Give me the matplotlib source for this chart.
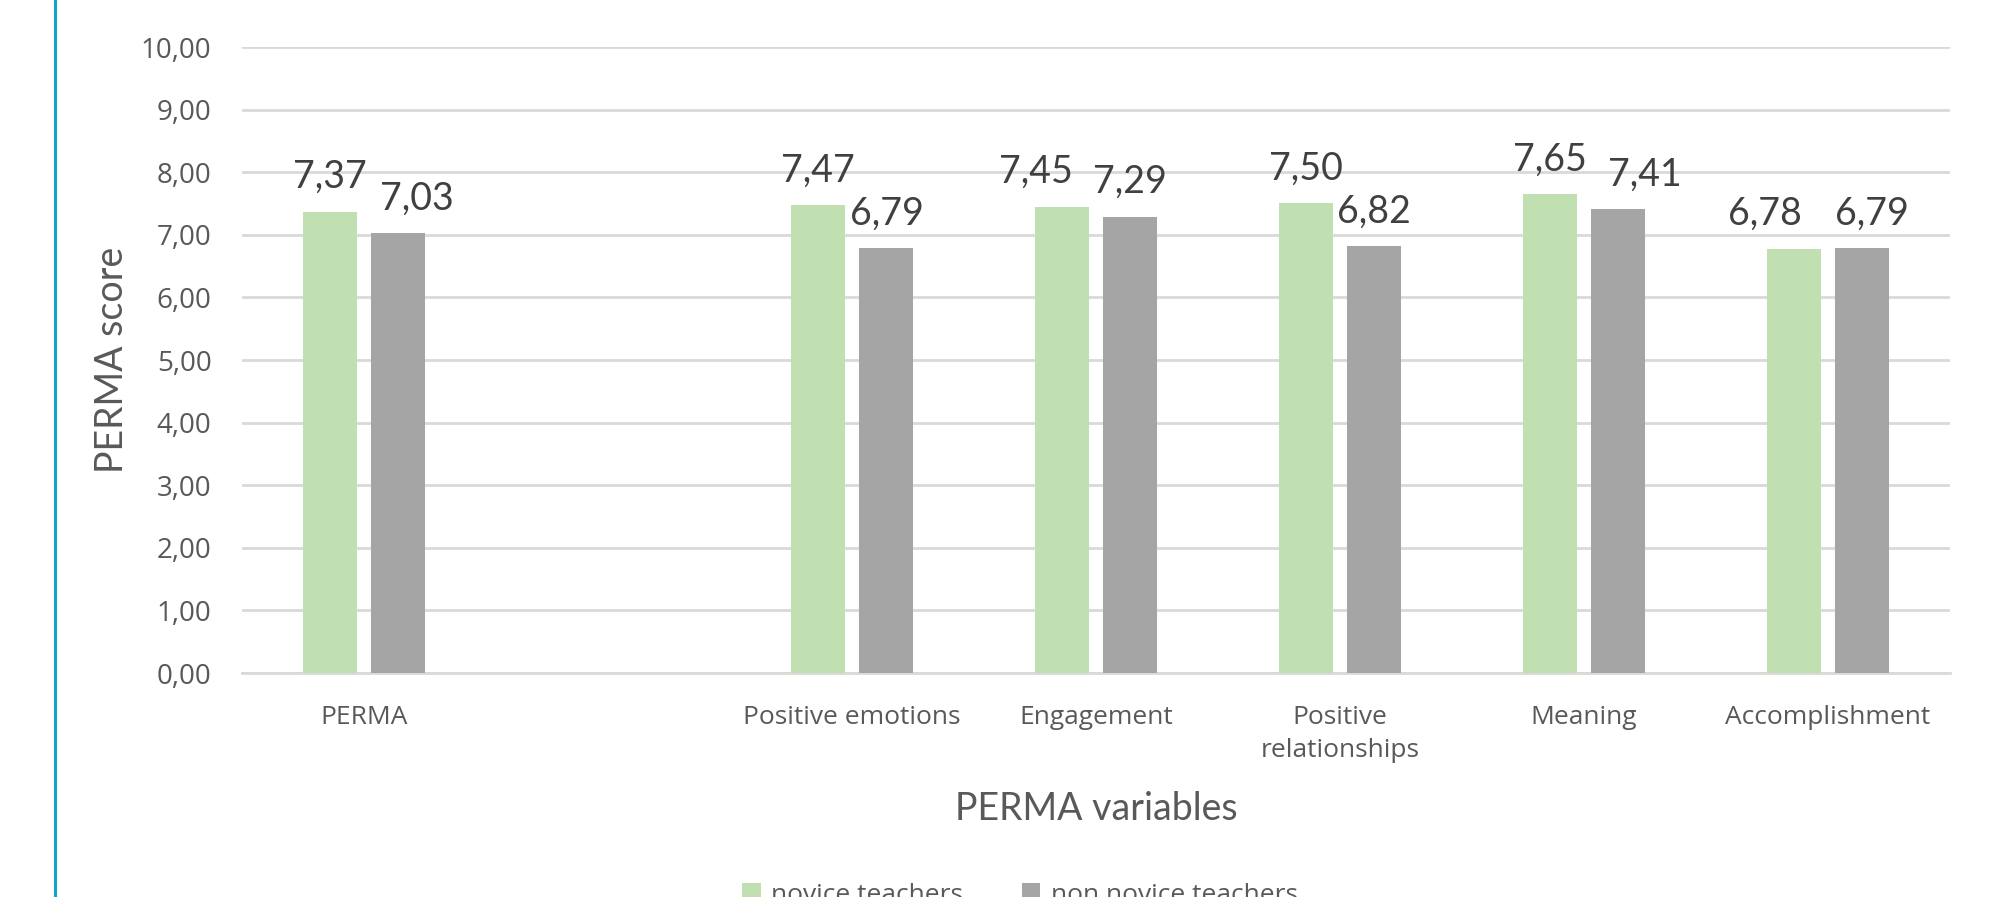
import matplotlib
matplotlib.use("Agg")
import matplotlib.pyplot as plt
from matplotlib.lines import Line2D
import numpy as np

# Data (one empty category after PERMA)
categories = ["PERMA", "", "Positive emotions", "Engagement",
              "Positive\nrelationships", "Meaning", "Accomplishment"]
novice = [7.37, None, 7.47, 7.45, 7.50, 7.65, 6.78]
non_novice = [7.03, None, 6.79, 7.29, 6.82, 7.41, 6.79]
series_names = ["novice teachers", "non novice teachers"]
y_ticks = [0, 1, 2, 3, 4, 5, 6, 7, 8, 9, 10]

# some data labels were nudged sideways in the original (pixels)
novice_shift = [0, 0, 0, -26, 0, 0, -29]
non_novice_shift = [18, 0, 1, 0, 0, 26, 10]

green = "#C0E0B2"
gray = "#A5A5A5"
grid_col = "#D9D9D9"
txt_col = "#595959"
lbl_col = "#404040"

fig = plt.figure(figsize=(19.94, 8.97), dpi=100)
ax = fig.add_axes([242 / 1994, 1 - 673 / 897, 1708 / 1994, 626 / 897])

x = np.arange(len(categories))
width = 0.221
offset = 0.141

def to_vals(vals):
    return [np.nan if v is None else v for v in vals]

b1 = ax.bar(x - offset, to_vals(novice), width, color=green, label=series_names[0], zorder=3)
b2 = ax.bar(x + offset, to_vals(non_novice), width, color=gray, label=series_names[1], zorder=3)

# data labels with decimal comma
px2pt = 72 / 100
for bars, vals, shifts in [(b1, novice, novice_shift), (b2, non_novice, non_novice_shift)]:
    for rect, v, dx in zip(bars, vals, shifts):
        if v is None:
            continue
        ax.annotate(f"{v:.2f}".replace(".", ","),
                    (rect.get_x() + rect.get_width() / 2, v),
                    xytext=(dx * px2pt, 17), textcoords="offset points",
                    ha="center", va="baseline", fontsize=27,
                    family="Lato", color=lbl_col)

ax.set_xlim(-0.5, len(categories) - 0.5)
ax.set_ylim(0, 10)
ax.set_yticks(y_ticks)
ax.set_yticklabels([f"{t:.2f}".replace(".", ",") for t in y_ticks],
                   fontsize=20, family="Open Sans", color=txt_col)
ax.set_xticks(x)
ax.set_xticklabels(categories, fontsize=19, family="Open Sans",
                   color=txt_col, linespacing=1.45)
ax.tick_params(axis="both", length=0)
ax.tick_params(axis="y", pad=22)
ax.tick_params(axis="x", pad=23)

ax.yaxis.grid(True, color=grid_col, linewidth=2, zorder=0)
for s in ["top", "right", "left"]:
    ax.spines[s].set_visible(False)
ax.spines["bottom"].set_color(grid_col)
ax.spines["bottom"].set_linewidth(2)

ax.set_ylabel("PERMA score", fontsize=27, family="Lato", color=txt_col, labelpad=8)
ax.set_xlabel("PERMA variables", fontsize=27, family="Lato", color=txt_col, labelpad=20)

# legend sits at the bottom edge, partly cropped like in the reference
fig.legend(handles=[b1, b2], loc="center", bbox_to_anchor=(1020 / 1994, 1 - 895 / 897),
           ncol=2, frameon=False, prop={"family": "Open Sans", "size": 19},
           handlelength=0.7, handleheight=0.7, columnspacing=2.2, handletextpad=0.4,
           labelcolor=txt_col)

# blue border line at the left
fig.add_artist(Line2D([55 / 1994, 55 / 1994], [0, 1], color="#12A3C9", linewidth=2.2))

fig.savefig("out.png", dpi=100)
